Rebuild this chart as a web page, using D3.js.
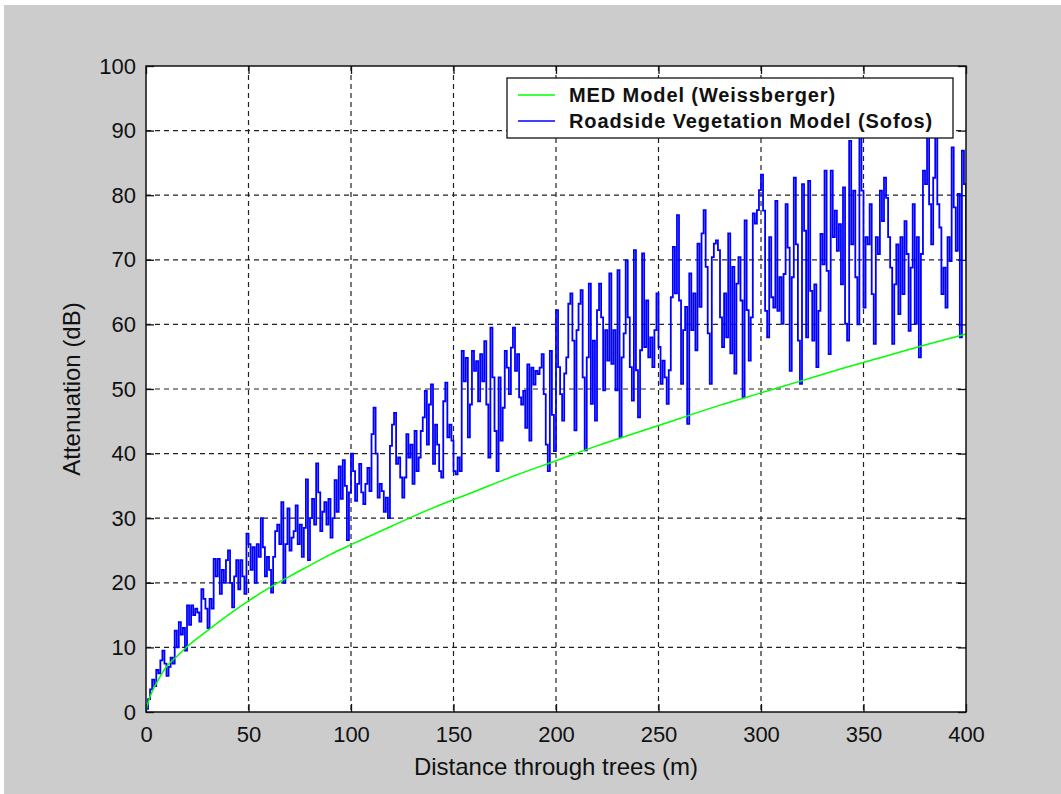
<!DOCTYPE html>
<html>
<head>
<meta charset="utf-8">
<script src="https://cdn.jsdelivr.net/npm/d3@7"></script>
<style>
  body { margin: 0; background: #fff; }
  svg { display: block; font-family: "Liberation Sans", Arial, sans-serif; }
  .axis text { font-size: 22px; fill: #111; }
  .axis line { stroke: #111; stroke-width: 1.3; }
  .axis path { display: none; }
  .grid line { stroke: #222; stroke-dasharray: 5, 4; stroke-width: 1.2; }
</style>
</head>
<body>
<div id="chart"></div>
<script>
// ---- data ----
var xTicks = [0, 50, 100, 150, 200, 250, 300, 350, 400];
var yTicks = [0, 10, 20, 30, 40, 50, 60, 70, 80, 90, 100];

// MED model (Weissberger), sampled along the green curve
var medDistance = [0, 2, 5, 10, 15, 20, 30, 40, 50, 60, 70, 80, 90, 100, 120, 140, 160, 180, 200,
                   220, 240, 260, 280, 300, 320, 340, 360, 380, 400];
var medAttenuation = [0.3, 2.4, 4.4, 7.0, 8.6, 10.1, 12.6, 15.0, 17.2, 19.2, 21.0, 22.7, 24.4, 25.9,
                      28.8, 31.6, 34.1, 36.6, 38.9, 41.2, 43.3, 45.4, 47.5, 49.4, 51.3, 53.2, 55.0, 56.8, 58.5];

// Roadside vegetation model (Sofos), one value per metre from 0 to 400 m
var sofosStart = 0, sofosStep = 1;
var sofosAttenuation = [
  0.5, 2, 3.5, 5, 4, 6.5, 6, 8, 9.5, 7.5, 5.6, 7, 8.4, 7.5, 12.6, 10, 13.9, 12, 13, 9.5,
  16.5, 13.5, 16.5, 15, 16, 15.4, 14, 19, 17.5, 16, 13, 17.5, 16, 23.7, 21, 23.7, 18.3, 22, 20, 23.5,
  25, 20, 16.2, 21, 23.5, 19, 23.5, 21, 18.3, 27.6, 26, 22, 25.5, 20, 26, 24, 30, 25.5, 21, 24,
  22, 18.5, 24, 28, 29, 26, 32.5, 20, 26, 31.5, 25, 27, 28, 32, 26, 29, 24, 28.5, 36, 23.5,
  30, 33, 29, 38.5, 34, 28, 31, 32.5, 29, 33, 27, 30, 35.9, 31, 38, 33, 39, 35, 26.6, 34,
  40, 37.3, 32.7, 35.3, 38.4, 34, 32.2, 35.3, 37.8, 34.2, 43, 47.1, 40, 33.2, 35.3, 34.2, 31, 33.2, 30, 41.2,
  44.5, 46.3, 38.4, 39.4, 36.3, 33.2, 36.3, 43, 39.4, 41.4, 35.3, 43.5, 37.3, 39.4, 43.5, 45.6, 49.7, 41.4, 47.6, 50.7,
  38.4, 44.5, 41.4, 37.3, 36.3, 48.1, 51, 42.5, 44.5, 42, 37.3, 36.8, 39.4, 37.3, 55.9, 51.2, 54.8, 42.5, 47.6, 55.9,
  52.8, 54.3, 48.1, 55.4, 51.2, 57.4, 47.6, 39.4, 59.5, 51.8, 43.5, 37.3, 51.8, 42, 47.1, 55.9, 53.3, 49.2, 56.4, 59.5,
  52.8, 55.4, 48.7, 47.6, 49.7, 44, 53.8, 42, 53.3, 50.7, 52.8, 52.3, 53.3, 55.4, 49.2, 41.4, 37.3, 55.9, 46, 40.4,
  62.2, 53.4, 49.2, 45.1, 52.4, 54.9, 63.2, 64.8, 57.5, 43.6, 59.1, 63.2, 65.3, 51.8, 40.5, 54.9, 66.3, 47.7, 57.5, 45.1,
  62.2, 66.3, 61.1, 49.8, 59.1, 54.4, 67.9, 53.9, 59.1, 49.8, 68.4, 42.5, 54.9, 58.6, 69.9, 61.1, 53.4, 48.2, 71.5, 52.9,
  45.6, 56, 71, 56.5, 63.7, 54.9, 58, 53.4, 59.1, 64.8, 56.5, 50.8, 54.4, 51.8, 47.7, 52.9, 64.2, 72, 64.8, 76.9,
  63.7, 50.8, 59.1, 62.7, 44.6, 67.9, 59.1, 64.8, 56, 72.5, 62.7, 74.1, 77.7, 68.9, 58.6, 50.8, 70.4, 72.5, 73, 71.5,
  61.1, 56.5, 64.8, 58, 74.1, 55.5, 68.9, 52.4, 66.3, 70.4, 63.7, 48.7, 76.1, 62.2, 54.4, 61.1, 77.2, 75.6, 77.7, 80.8,
  83.2, 77.6, 62.1, 58, 73.5, 64.2, 62.6, 79.1, 62.1, 67.3, 60.1, 67.8, 78.6, 71.9, 52.8, 67.3, 82.7, 72.4, 57.5, 50.8,
  81.7, 74.5, 58, 82.2, 65.2, 57.5, 66.2, 53.4, 62.1, 74, 69.3, 83.8, 68.3, 55.4, 83.8, 73.5, 77.6, 71.4, 75.5, 66.2,
  81.2, 60.1, 57.5, 88.4, 72.4, 80.7, 67.3, 60, 90, 80.7, 62.6, 73.5, 72.4, 78.6, 64.7, 57, 73.5, 70.9, 80.7, 76,
  82.7, 79.6, 73.5, 68.8, 57, 66.2, 72.4, 61.6, 73.5, 64.7, 76, 70.9, 59, 68.8, 78.6, 60.1, 73.5, 54.9, 70.9, 83.8,
  81.7, 90, 78.6, 72.4, 82.7, 92, 78.6, 75, 64.7, 68.8, 62.6, 73.5, 69.8, 87.4, 78.1, 71.4, 80.2, 58, 86.9, 81.7,
  69.8
];

var legendLabels = ["MED Model (Weissberger)", "Roadside Vegetation Model (Sofos)"];
var legendColors = ["#00ff00", "#0000ff"];

// ---- layout ----
var W = 1061, H = 794;
var margin = { top: 66, left: 146, right: 95, bottom: 82 },
    width = W - margin.left - margin.right,
    height = H - margin.top - margin.bottom;

var root = d3.select("#chart").append("svg")
  .attr("width", W)
  .attr("height", H);

// grey figure background, white strip along top and left
root.append("rect")
  .attr("x", 4).attr("y", 5)
  .attr("width", W - 4).attr("height", H - 5)
  .attr("fill", "#cccccc");

var svg = root.append("g")
  .attr("transform", "translate(" + margin.left + "," + margin.top + ")");

var x = d3.scaleLinear().domain([0, 400]).range([0, width]);
var y = d3.scaleLinear().domain([0, 100]).range([height, 0]);

svg.append("rect")
  .attr("width", width).attr("height", height)
  .attr("fill", "#fff");

// dashed grid
svg.append("g")
  .attr("class", "grid")
  .selectAll("line.v")
  .data(xTicks.slice(1, -1))
  .enter().append("line")
  .attr("x1", function(d) { return x(d); })
  .attr("x2", function(d) { return x(d); })
  .attr("y1", 0).attr("y2", height);

svg.append("g")
  .attr("class", "grid")
  .selectAll("line.h")
  .data(yTicks.slice(1, -1))
  .enter().append("line")
  .attr("y1", function(d) { return y(d); })
  .attr("y2", function(d) { return y(d); })
  .attr("x1", 0).attr("x2", width);

// axes with inward ticks on all four sides
svg.append("g")
  .attr("class", "axis x-axis")
  .attr("transform", "translate(0," + height + ")")
  .call(d3.axisBottom(x).tickValues(xTicks).tickSizeInner(-8).tickSizeOuter(0).tickPadding(14));

svg.append("g")
  .attr("class", "axis y-axis")
  .call(d3.axisLeft(y).tickValues(yTicks).tickSizeInner(-8).tickSizeOuter(0).tickPadding(10));

svg.append("g")
  .attr("class", "axis")
  .call(d3.axisTop(x).tickValues(xTicks).tickSizeInner(-8).tickSizeOuter(0).tickFormat(""));

svg.append("g")
  .attr("class", "axis")
  .attr("transform", "translate(" + width + ",0)")
  .call(d3.axisRight(y).tickValues(yTicks).tickSizeInner(-8).tickSizeOuter(0).tickFormat(""));

svg.append("defs").append("clipPath")
  .attr("id", "plot-clip")
  .append("rect")
  .attr("width", width).attr("height", height);

// series
var sofosLine = d3.line()
  .x(function(d, i) { return x(sofosStart + i * sofosStep); })
  .y(function(d) { return y(d); })
  .curve(d3.curveStepAfter);

svg.append("path")
  .datum(sofosAttenuation)
  .attr("clip-path", "url(#plot-clip)")
  .attr("d", sofosLine)
  .attr("fill", "none")
  .attr("stroke", "#0000ff")
  .attr("stroke-width", 1.8);

var medLine = d3.line()
  .x(function(d, i) { return x(medDistance[i]); })
  .y(function(d) { return y(d); })
  .curve(d3.curveMonotoneX);

svg.append("path")
  .datum(medAttenuation)
  .attr("d", medLine)
  .attr("fill", "none")
  .attr("stroke", "#00ff00")
  .attr("stroke-width", 1.5);

// plot frame
svg.append("rect")
  .attr("width", width).attr("height", height)
  .attr("fill", "none")
  .attr("stroke", "#111")
  .attr("stroke-width", 1.5);

// axis titles
svg.append("text")
  .attr("x", width / 2)
  .attr("y", height + 63)
  .attr("text-anchor", "middle")
  .attr("font-size", 24)
  .attr("fill", "#111")
  .text("Distance through trees (m)");

svg.append("text")
  .attr("transform", "translate(-66," + (height / 2) + ") rotate(-90)")
  .attr("text-anchor", "middle")
  .attr("font-size", 24)
  .attr("fill", "#111")
  .text("Attenuation (dB)");

// legend
var legend = svg.append("g")
  .attr("transform", "translate(" + (507 - margin.left) + "," + (78 - margin.top) + ")");

legend.append("rect")
  .attr("width", 446).attr("height", 60)
  .attr("fill", "#fff")
  .attr("stroke", "#111")
  .attr("stroke-width", 1.3);

var items = legend.selectAll("g.item")
  .data(legendLabels)
  .enter().append("g")
  .attr("class", "item")
  .attr("transform", function(d, i) { return "translate(0," + (17 + i * 26) + ")"; });

items.append("line")
  .attr("x1", 11).attr("x2", 48)
  .attr("stroke", function(d, i) { return legendColors[i]; })
  .attr("stroke-width", 1.5);

items.append("text")
  .attr("x", 62)
  .attr("dy", "0.36em")
  .attr("font-size", 20)
  .attr("font-weight", "bold")
  .attr("letter-spacing", 0.9)
  .attr("fill", "#111")
  .text(function(d) { return d; });
</script>
</body>
</html>
